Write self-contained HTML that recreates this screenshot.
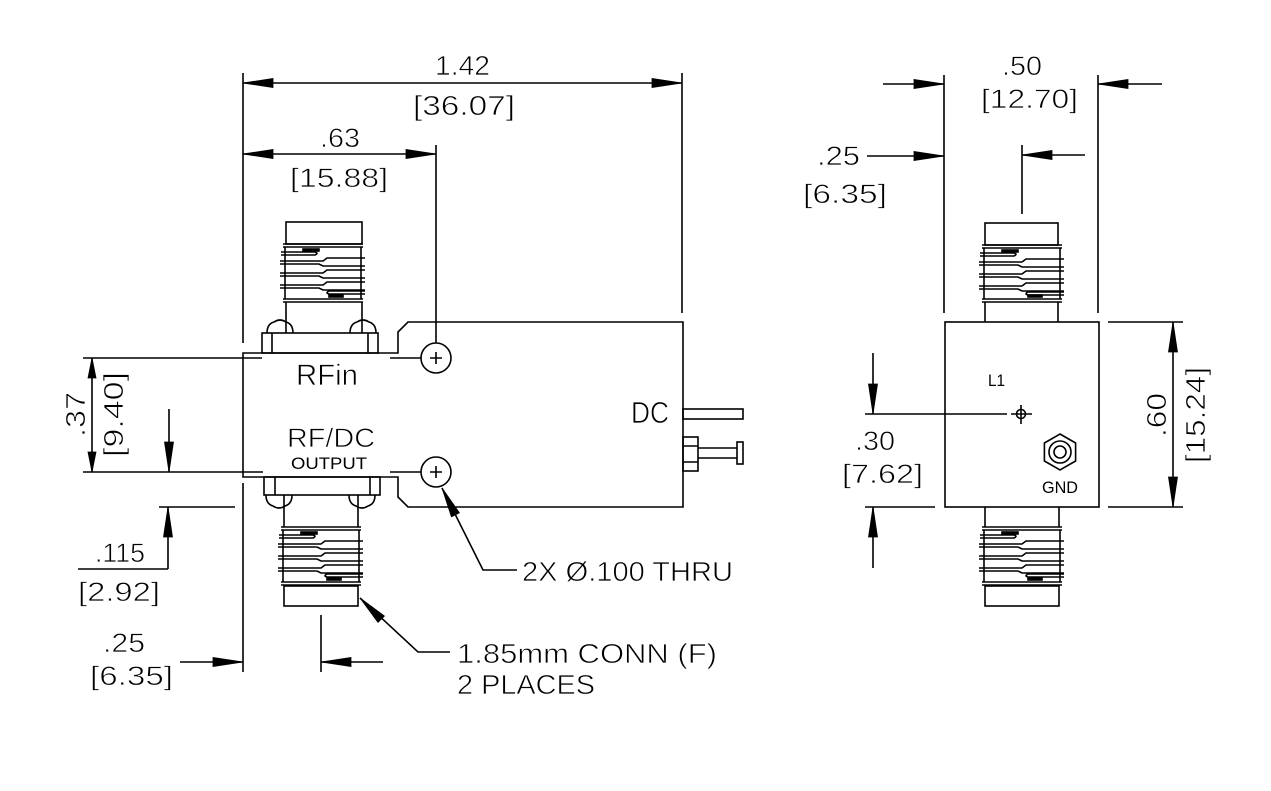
<!DOCTYPE html>
<html><head><meta charset="utf-8"><style>
html,body{margin:0;padding:0;background:#fff;}
svg{display:block;}
text{font-family:"Liberation Sans",Arial,sans-serif;fill:#000;stroke:#fff;stroke-width:0.7;}
text.sm{stroke:none;}
</style></head><body>
<svg width="1271" height="791" viewBox="0 0 1271 791" xmlns="http://www.w3.org/2000/svg">
<rect width="1271" height="791" fill="#fff"/>
<g fill="none" stroke="#000" stroke-width="1.6" stroke-linecap="butt">
<!-- ===== MAIN VIEW ===== -->
<path d="M243,73V343 M682,73V313 M243,83H682 M243,154H436 M436,145V343"/>
<path d="M243,353H398V332L408,322H683V507H408L398,497V477H243Z"/>
<path d="M83,358H262 M390,358H421 M83,472H263 M390,472H421"/>
<path d="M92,358V472 M169,409V472"/>
<circle cx="436" cy="358" r="15"/>
<circle cx="436" cy="472" r="15"/>
<path d="M430,358H442 M436,352V364 M430,472H442 M436,466V478"/>
<path d="M159,507H235 M168,507V569 M78,569H168"/>
<path d="M243,483V672 M180,662H243 M321,615V672 M321,662H383"/>
<path d="M442,488L483,570H517 M360,598L418,652H450"/>
<rect x="683" y="409" width="60" height="10"/>
<rect x="683" y="437" width="15" height="34"/>
<path d="M683,446H698 M683,462H698 M698,448H737 M698,458H737"/>
<rect x="737" y="442" width="6" height="22"/>

<!-- top connector main -->
<rect x="286" y="222" width="76" height="22"/>
<path d="M286,302V333 M362,302V333"/>
<rect x="262" y="333" width="116" height="20"/>
<path d="M272,333V353 M368,333V353"/>
<path d="M267,333 Q267,324 274,322 Q280,318 286,322 Q293,324 293,333"/>
<path d="M350,333 Q350,324 357,322 Q363,318 369,322 Q376,324 376,333"/>
<g transform="translate(283,244)">
<path d="M0,0H80M0,3H80M2,3V55M78,3V55M0,55H80M0,58H80
M-2,8L32,8Q36,9 32,11L-2,11
M-3,17L40,17L44,14L82,14M-3,20L36,20L40,22L82,22
M-3,29L40,29L44,26L82,26M-3,32L36,32L40,34L82,34
M-3,41L40,41L44,38L82,38M-3,44L36,44L40,46L82,46
M82,50L46,50Q42,49 46,47L82,47"/>
<rect x="20" y="5" width="16" height="2" fill="#000"/>
<rect x="46" y="51" width="14" height="2" fill="#000"/>
</g>

<!-- bottom connector main -->
<rect x="264" y="477" width="116" height="18"/>
<path d="M275,477V495 M370,477V495"/>
<path d="M266,495 Q266,504 273,506 Q279,510 285,506 Q292,504 292,495"/>
<path d="M349,495 Q349,504 356,506 Q362,510 368,506 Q375,504 375,495"/>
<path d="M284,495V527 M358,495V527"/>
<g transform="translate(281,527)">
<path d="M0,0H80M0,3H80M2,3V55M78,3V55M0,55H80M0,58H80
M-2,8L32,8Q36,9 32,11L-2,11
M-3,17L40,17L44,14L82,14M-3,20L36,20L40,22L82,22
M-3,29L40,29L44,26L82,26M-3,32L36,32L40,34L82,34
M-3,41L40,41L44,38L82,38M-3,44L36,44L40,46L82,46
M82,50L46,50Q42,49 46,47L82,47"/>
<rect x="20" y="5" width="16" height="2" fill="#000"/>
<rect x="46" y="51" width="14" height="2" fill="#000"/>
</g>
<rect x="284" y="586" width="74" height="20"/>

<!-- ===== RIGHT VIEW ===== -->
<path d="M944,75V313 M1098,75V313 M883,84H944 M1098,84H1162 M867,156H944 M1022,145V214 M1022,155H1085"/>
<rect x="945" y="322" width="154" height="185"/>
<rect x="985" y="223" width="73" height="22"/>
<path d="M985,302V322 M1058,302V322"/>
<g transform="translate(982,245)">
<path d="M0,0H80M0,3H80M2,3V54M78,3V54M0,54H80M0,57H80
M-2,8L32,8Q36,9 32,11L-2,11
M-3,17L40,17L44,14L82,14M-3,20L36,20L40,22L82,22
M-3,29L40,29L44,26L82,26M-3,32L36,32L40,34L82,34
M-3,41L40,41L44,38L82,38M-3,44L36,44L40,46L82,46
M82,50L46,50Q42,49 46,47L82,47"/>
<rect x="20" y="5" width="16" height="2" fill="#000"/>
<rect x="46" y="50" width="14" height="2" fill="#000"/>
</g>
<path d="M985,507V527 M1059,507V527"/>
<g transform="translate(982,527)">
<path d="M0,0H80M0,3H80M2,3V55M78,3V55M0,55H80M0,58H80
M-2,8L32,8Q36,9 32,11L-2,11
M-3,17L40,17L44,14L82,14M-3,20L36,20L40,22L82,22
M-3,29L40,29L44,26L82,26M-3,32L36,32L40,34L82,34
M-3,41L40,41L44,38L82,38M-3,44L36,44L40,46L82,46
M82,50L46,50Q42,49 46,47L82,47"/>
<rect x="20" y="5" width="16" height="2" fill="#000"/>
<rect x="46" y="51" width="14" height="2" fill="#000"/>
</g>
<rect x="985" y="586" width="74" height="20"/>
<path d="M865,414H1007 M873,353V414 M865,507H935 M873,507V568"/>
<circle cx="1021" cy="414" r="4.5"/>
<path d="M1011,414H1032 M1021,405V424"/>
<polygon points="1060,434 1075.6,443 1075.6,461 1060,470 1044.4,461 1044.4,443"/>
<circle cx="1060" cy="452" r="11"/>
<circle cx="1060" cy="452" r="6"/>
<path d="M1108,322H1183 M1108,507H1183 M1173,322V507"/>
</g>

<!-- arrowheads -->
<g fill="#000" stroke="#000" stroke-width="0.8">
<polygon points="243,83 273,78.5 273,87.5"/>
<polygon points="682,83 652,78.5 652,87.5"/>
<polygon points="243,154 273,149.5 273,158.5"/>
<polygon points="436,154 406,149.5 406,158.5"/>
<polygon points="92,358 88,378 96,378"/>
<polygon points="92,472 88,452 96,452"/>
<polygon points="169,472 164.5,442 173.5,442"/>
<polygon points="168,507 163.5,537 172.5,537"/>
<polygon points="243,662 213,657.5 213,666.5"/>
<polygon points="321,662 351,657.5 351,666.5"/>
<polygon points="442,488 459.4,512.8 451.4,516.8"/>
<polygon points="360,598 384.4,616.0 378.0,622.4"/>
<polygon points="944,84 914,79.5 914,88.5"/>
<polygon points="1098,84 1128,79.5 1128,88.5"/>
<polygon points="944,156 914,151.5 914,160.5"/>
<polygon points="1022,155 1052,150.5 1052,159.5"/>
<polygon points="873,414 868.5,384 877.5,384"/>
<polygon points="873,507 868.5,537 877.5,537"/>
<polygon points="1173,322 1168.5,352 1177.5,352"/>
<polygon points="1173,507 1168.5,477 1177.5,477"/>
</g>

<!-- text -->
<g>
<text x="435" y="75" font-size="28" textLength="55" lengthAdjust="spacingAndGlyphs">1.42</text>
<text x="413" y="115" font-size="28" textLength="102" lengthAdjust="spacingAndGlyphs">[36.07]</text>
<text x="320" y="147" font-size="27" textLength="40" lengthAdjust="spacingAndGlyphs">.63</text>
<text x="290" y="187" font-size="27" textLength="98" lengthAdjust="spacingAndGlyphs">[15.88]</text>
<text x="296" y="385" font-size="30" textLength="62" lengthAdjust="spacingAndGlyphs">RFin</text>
<text x="287" y="447" font-size="27" textLength="88" lengthAdjust="spacingAndGlyphs">RF/DC</text>
<text class="sm" x="291" y="469" font-size="17" textLength="76" lengthAdjust="spacingAndGlyphs">OUTPUT</text>
<text x="631" y="423" font-size="31" textLength="38" lengthAdjust="spacingAndGlyphs">DC</text>
<text transform="translate(85,437) rotate(-90)" x="0" y="0" font-size="28" textLength="45" lengthAdjust="spacingAndGlyphs">.37</text>
<text transform="translate(123,457) rotate(-90)" x="0" y="0" font-size="28" textLength="85" lengthAdjust="spacingAndGlyphs">[9.40]</text>
<text x="95" y="562" font-size="27" textLength="50" lengthAdjust="spacingAndGlyphs">.115</text>
<text x="78" y="601" font-size="27" textLength="82" lengthAdjust="spacingAndGlyphs">[2.92]</text>
<text x="103" y="652" font-size="27" textLength="42" lengthAdjust="spacingAndGlyphs">.25</text>
<text x="90" y="685" font-size="27" textLength="83" lengthAdjust="spacingAndGlyphs">[6.35]</text>
<text x="522" y="581" font-size="28" textLength="211" lengthAdjust="spacingAndGlyphs">2X Ø.100 THRU</text>
<text x="457" y="663" font-size="28" textLength="260" lengthAdjust="spacingAndGlyphs">1.85mm CONN (F)</text>
<text x="457" y="694" font-size="28" textLength="138" lengthAdjust="spacingAndGlyphs">2 PLACES</text>

<text x="1002" y="75" font-size="27" textLength="40" lengthAdjust="spacingAndGlyphs">.50</text>
<text x="981" y="108" font-size="27" textLength="97" lengthAdjust="spacingAndGlyphs">[12.70]</text>
<text x="817" y="165" font-size="27" textLength="43" lengthAdjust="spacingAndGlyphs">.25</text>
<text x="803" y="203" font-size="27" textLength="84" lengthAdjust="spacingAndGlyphs">[6.35]</text>
<text class="sm" x="988" y="386" font-size="17" textLength="17" lengthAdjust="spacingAndGlyphs">L1</text>
<text x="855" y="450" font-size="27" textLength="40" lengthAdjust="spacingAndGlyphs">.30</text>
<text x="842" y="483" font-size="27" textLength="81" lengthAdjust="spacingAndGlyphs">[7.62]</text>
<text class="sm" x="1042" y="493" font-size="17" textLength="36" lengthAdjust="spacingAndGlyphs">GND</text>
<text transform="translate(1166,437) rotate(-90)" x="0" y="0" font-size="28" textLength="44" lengthAdjust="spacingAndGlyphs">.60</text>
<text transform="translate(1205,463) rotate(-90)" x="0" y="0" font-size="28" textLength="96" lengthAdjust="spacingAndGlyphs">[15.24]</text>
</g>
</svg>
</body></html>
